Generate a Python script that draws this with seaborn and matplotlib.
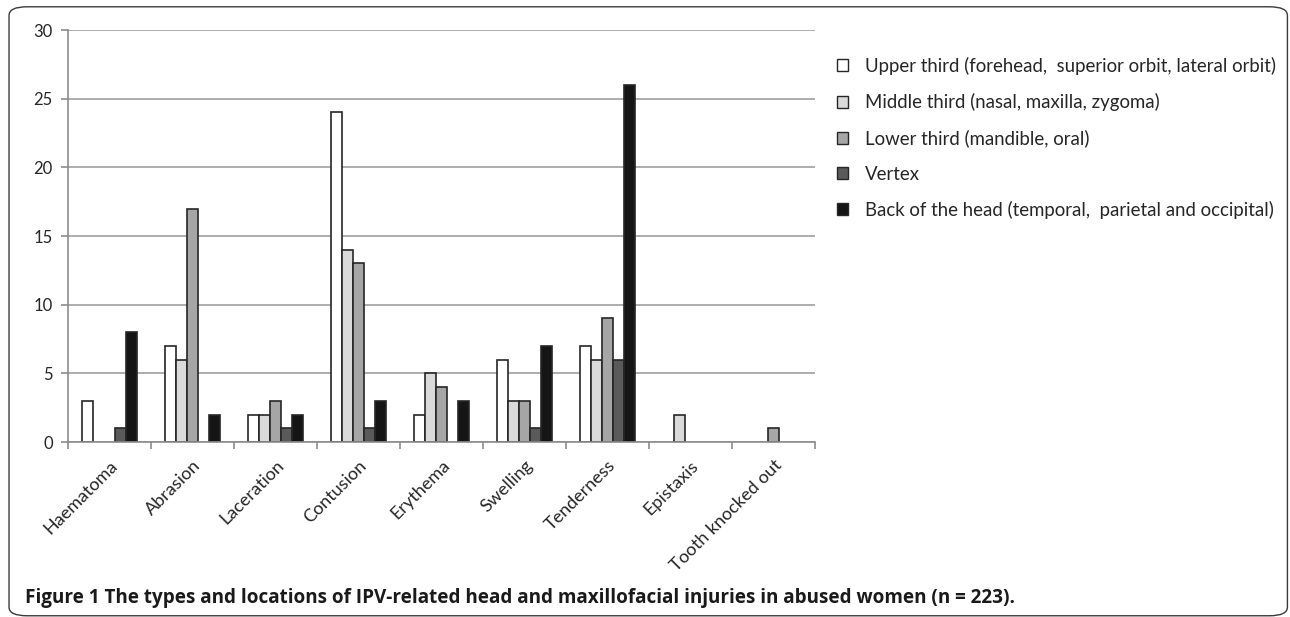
"""
Grouped bar chart: types and locations of IPV-related head and maxillofacial injuries.
Output: out.png
"""
import numpy as np
import pandas as pd
import matplotlib.pyplot as plt
from matplotlib.patches import FancyBboxPatch
import seaborn as sns

# --- Data ---
injuries = ["Haematoma", "Abrasion", "Laceration", "Contusion", "Erythema",
            "Swelling", "Tenderness", "Epistaxis", "Tooth knocked out"]
locations = ["Upper third (forehead,  superior orbit, lateral orbit)",
             "Middle third (nasal, maxilla, zygoma)",
             "Lower third (mandible, oral)",
             "Vertex",
             "Back of the head (temporal,  parietal and occipital)"]
upper = [3, 7, 2, 24, 2, 6, 7, 0, 0]
middle = [0, 6, 2, 14, 5, 3, 6, 2, 0]
lower = [0, 17, 3, 13, 4, 3, 9, 0, 1]
vertex = [1, 0, 1, 1, 0, 1, 6, 0, 0]
back = [8, 2, 2, 3, 3, 7, 26, 0, 0]

series = [upper, middle, lower, vertex, back]
rows = []
for loc, vals in zip(locations, series):
    for inj, v in zip(injuries, vals):
        rows.append({"Injury": inj, "Location": loc, "Count": v})
df = pd.DataFrame(rows)

sns.set_theme(style="white")
plt.rcParams["font.family"] = ["Lato", "DejaVu Sans"]

fig = plt.figure(figsize=(12.9, 6.17), dpi=100)
ax = fig.add_axes([0.0527, 0.2836, 0.579, 0.6677])

palette = ["#ffffff", "#dadada", "#a6a6a6", "#5a5a5a", "#151515"]
sns.barplot(data=df, x="Injury", y="Count", hue="Location", hue_order=locations,
            order=injuries, palette=palette, width=0.66, gap=0,
            edgecolor="#262626", linewidth=1.2, saturation=1, ax=ax)

# hide empty bars so they don't leave a stub on the axis
for p in ax.patches:
    if p.get_height() == 0:
        p.set_visible(False)

ax.set_ylim(0, 30)
ax.set_xlim(-0.5, len(injuries) - 0.5)
ax.set_yticks(range(0, 31, 5))
ax.yaxis.grid(True, color="#a0a0a0", linewidth=1.2)
ax.set_axisbelow(True)
ax.set_xlabel("")
ax.set_ylabel("")

for s in ["top", "right"]:
    ax.spines[s].set_visible(False)
for s in ["left", "bottom"]:
    ax.spines[s].set_color("#8c8c8c")
    ax.spines[s].set_linewidth(1.2)

ax.set_xticks(np.arange(len(injuries)))
ax.set_xticklabels(injuries, rotation=45, ha="right", rotation_mode="anchor",
                   fontsize=13)
ax.set_xticks(np.arange(-0.5, len(injuries)), minor=True)
ax.tick_params(axis="x", which="major", length=0, pad=11)
ax.tick_params(axis="x", which="minor", length=5, color="#8c8c8c", width=1.2,
               bottom=True, direction="out")
ax.tick_params(axis="y", length=5, color="#8c8c8c", width=1.2, left=True,
               labelsize=12, direction="out", pad=6)

sns.move_legend(ax, "upper left", bbox_to_anchor=(1.029, 0.935), frameon=False,
                title=None, fontsize=13.4, labelspacing=0.98, borderpad=0,
                borderaxespad=0, handlelength=0.6, handleheight=0.6,
                handletextpad=0.95)
for h in ax.get_legend().legend_handles:
    h.set_linewidth(1.0)

fig.text(0.019, 0.030,
         "Figure 1 The types and locations of IPV-related head and maxillofacial "
         "injuries in abused women (n = 223).",
         fontsize=13.6, fontweight="bold", ha="left", va="center",
         family=["Open Sans", "DejaVu Sans"], color="#1a1a1a")

border = FancyBboxPatch((0.007, 0.002), 0.991, 0.987, transform=fig.transFigure,
                        boxstyle="round,pad=0,rounding_size=0.014",
                        facecolor="none", edgecolor="#3a3a3a", linewidth=1.0)
fig.patches.append(border)

fig.savefig("out.png", dpi=100, facecolor="white")
plt.close(fig)
